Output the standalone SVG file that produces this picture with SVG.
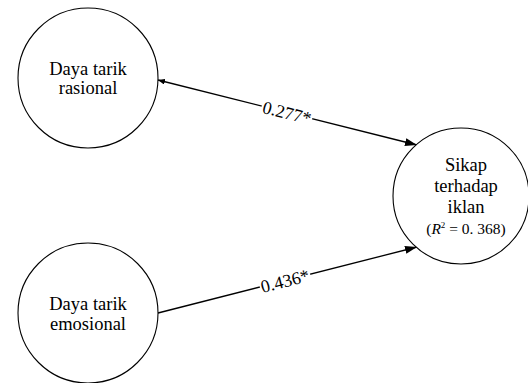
<svg xmlns="http://www.w3.org/2000/svg" width="528" height="383" viewBox="0 0 528 383">
  <style>
    .node { fill: #fff; stroke: #000; stroke-width: 1.1; }
    .lbl { font-family: "Liberation Serif", "Times New Roman", serif; font-size: 18.5px; fill: #000; text-anchor: middle; }
    .small { font-size: 15.5px; }
    .edge { stroke: #000; stroke-width: 1.3; fill: none; }
    .elbl { font-family: "Liberation Serif", "Times New Roman", serif; font-size: 18px; fill: #000; text-anchor: middle; }
  </style>
  <defs>
    <marker id="head" viewBox="0 0 12 8" refX="12" refY="4" markerWidth="12" markerHeight="8" markerUnits="userSpaceOnUse" orient="auto">
      <path d="M0,0 L12,4 L0,8 Z" fill="#000"/>
    </marker>
    <marker id="tail" viewBox="0 0 7 6" refX="0" refY="3" markerWidth="7" markerHeight="6" markerUnits="userSpaceOnUse" orient="auto">
      <path d="M7,0 L0,3 L7,6 Z" fill="#000"/>
    </marker>
  </defs>
  <rect width="528" height="383" fill="#fff"/>

  <g id="connectors">
    <g id="edge-rasional">
      <line class="edge" x1="158" y1="80" x2="417" y2="145" marker-start="url(#tail)" marker-end="url(#head)"/>
      <g transform="translate(287,112.4) rotate(14.09)">
        <rect x="-26" y="-8" width="52" height="16" fill="#fff"/>
        <text class="elbl" x="0" y="6.5">0.277*</text>
      </g>
    </g>
    <g id="edge-emosional">
      <line class="edge" x1="158" y1="313" x2="417" y2="247" marker-end="url(#head)"/>
      <g transform="translate(285,280.6) rotate(-14.3)">
        <rect x="-26" y="-8" width="52" height="16" fill="#fff"/>
        <text class="elbl" x="0" y="6.5">0.436*</text>
      </g>
    </g>
  </g>

  <g id="node-rasional">
    <circle class="node" cx="88" cy="78" r="70"/>
    <text class="lbl" x="88" y="75">Daya tarik</text>
    <text class="lbl" x="88" y="94">rasional</text>
  </g>

  <g id="node-emosional">
    <circle class="node" cx="88" cy="313" r="70"/>
    <text class="lbl" x="88" y="310">Daya tarik</text>
    <text class="lbl" x="88" y="330">emosional</text>
  </g>

  <g id="node-sikap">
    <circle class="node" cx="461" cy="196" r="68"/>
    <text class="lbl" x="466" y="171">Sikap</text>
    <text class="lbl" x="466" y="192">terhadap</text>
    <text class="lbl" x="466" y="213">iklan</text>
    <text class="lbl small" x="466" y="234">(<tspan font-style="italic">R</tspan><tspan font-size="9" dy="-6">2</tspan><tspan dy="6"> = 0. 368)</tspan></text>
  </g>
</svg>
